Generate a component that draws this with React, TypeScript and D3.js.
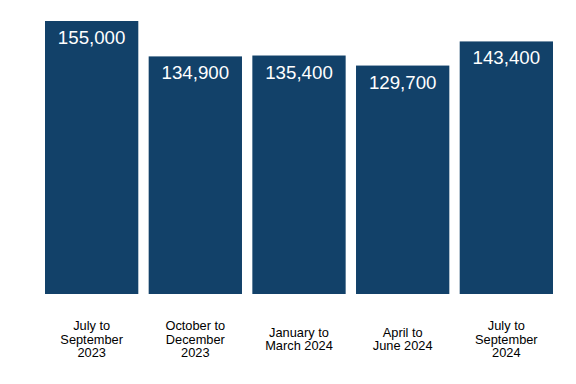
import React from "react";
import * as d3 from "d3";

const categories: string[][] = [
  ["July to", "September", "2023"],
  ["October to", "December", "2023"],
  ["January to", "March 2024"],
  ["April to", "June 2024"],
  ["July to", "September", "2024"],
];
const values: number[] = [155000, 134900, 135400, 129700, 143400];

const W = 576;
const H = 384;
const BAR = "#124169";

export default function App() {
  const x = d3
    .scaleBand<number>()
    .domain(d3.range(values.length))
    .range([45, 553])
    .paddingInner(0.1)
    .paddingOuter(0);
  const y = d3.scaleLinear().domain([0, 155000]).range([294, 21]);
  const fmt = d3.format(",");
  const font = "Arial, 'Liberation Sans', sans-serif";

  return (
    <svg
      width={W}
      height={H}
      style={{ position: "absolute", left: 0, top: 0 }}
      fontFamily={font}
    >
      <rect width={W} height={H} fill="#ffffff" />
      {values.map((v, i) => {
        const x0 = x(i)!;
        const bw = x.bandwidth();
        const cx = x0 + bw / 2;
        const lines = categories[i];
        const lh = 13.7;
        const startY = 339 - ((lines.length - 1) * lh) / 2;
        return (
          <g key={i}>
            <rect x={x0} y={y(v)} width={bw} height={y(0) - y(v)} fill={BAR} />
            <text
              x={cx}
              y={y(v) + 23}
              textAnchor="middle"
              fill="#ffffff"
              fontSize={18.7}
            >
              {fmt(v)}
            </text>
            <text textAnchor="middle" fontSize={12.8} fill="#000000">
              {lines.map((l, j) => (
                <tspan key={j} x={cx} y={startY + j * lh + 4.6}>
                  {l}
                </tspan>
              ))}
            </text>
          </g>
        );
      })}
    </svg>
  );
}
